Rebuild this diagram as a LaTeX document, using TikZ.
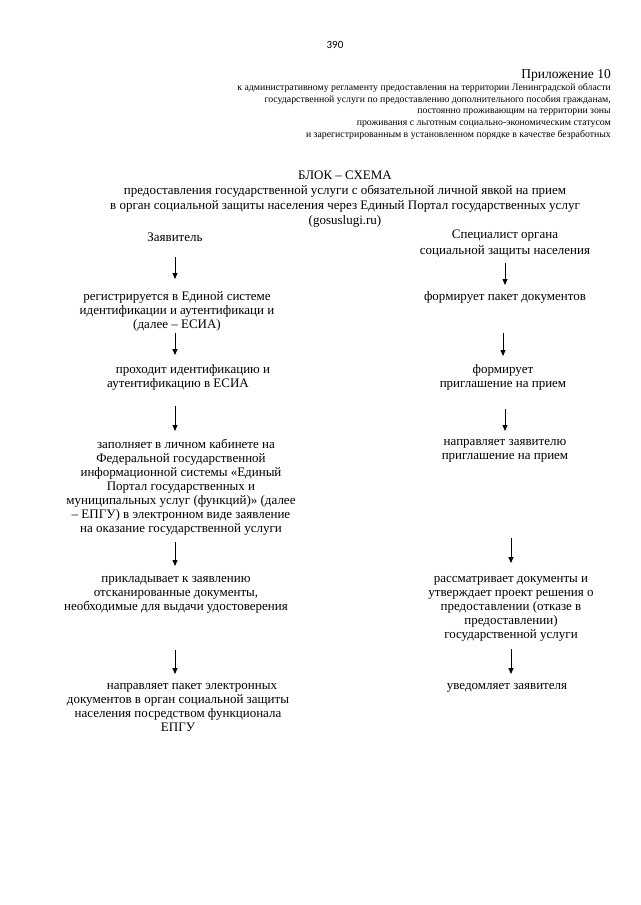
\documentclass[tikz,border=0pt]{standalone}
\usepackage{fontspec}
\setmainfont{Liberation Serif}
\newfontfamily\pagenumfont{Carlito}
\usepackage{xcolor}
\usetikzlibrary{arrows.meta}
\definecolor{ink}{HTML}{000000}
\tikzset{
  txt/.style={align=center, inner sep=0pt, anchor=north, color=ink,
              font=\fontsize{13}{14}\selectfont},
  hdr/.style={align=right, inner sep=0pt, anchor=north east, color=ink,
              font=\fontsize{9.8}{11.8}\selectfont},
  ar/.style={-{Triangle[length=6pt, width=5pt]}, line width=0.8pt, color=ink},
}

\begin{document}
\begin{tikzpicture}[x=1pt, y=-1pt]
\useasboundingbox (0,0) rectangle (640,905);
\fill[white] (0,0) rectangle (640,905);

% page head
\node[inner sep=0pt, font=\pagenumfont\fontsize{11}{13}\selectfont] (pg) at (335,45) {390};
\node[inner sep=0pt, anchor=east, font=\fontsize{13.5}{15}\selectfont] (app) at (611,75) {Приложение 10};
\node[hdr] (appsub) at (611,83) {к административному регламенту предоставления на территории Ленинградской области\\
  государственной услуги  по предоставлению  дополнительного пособия гражданам,\\
  постоянно проживающим на территории зоны\\
  проживания с льготным социально-экономическим статусом\\
  и зарегистрированным в установленном порядке в качестве безработных};

% title
\node[txt, font=\fontsize{13}{15}\selectfont] (ttl) at (345,171) {БЛОК – СХЕМА\\
  предоставления государственной услуги  с обязательной личной явкой на прием\\
  в орган социальной защиты населения через Единый Портал государственных услуг\\
  (gosuslugi.ru)};

% applicant
\node[txt] (zv) at (175,233) {Заявитель};
\node[txt] (reg) at (177,291) {регистрируется в Единой системе\\ идентификации и аутентификаци и\\ (далее – ЕСИА)};
\node[txt] (esia) at (178,364) {\hspace*{30pt}проходит идентификацию и\\ аутентификацию в ЕСИА};
\node[txt] (fill) at (181,439) {\hspace*{10pt}заполняет в личном кабинете на\\
  Федеральной государственной\hspace*{30pt}\\
  информационной системы «Единый\\
  Портал государственных и\hspace*{26pt}\\
  муниципальных услуг (функций)» (далее\\
  – ЕПГУ)  в электронном виде заявление\\
  на оказание государственной услуги};
\node[txt] (scan) at (176,576) {прикладывает  к заявлению\\ отсканированные документы,\\ необходимые для выдачи удостоверения};
\node[txt] (send) at (178,683) {\hspace*{28pt}направляет пакет электронных\\
  документов в орган социальной защиты\\
  населения посредством функционала\\
  ЕПГУ};

% specialist
\node[txt, font=\fontsize{13}{16}\selectfont] (sp) at (505,230) {Специалист органа\\ социальной защиты населения};
\node[txt] (pak) at (505,291) {формирует пакет документов};
\node[txt] (inv) at (503,364) {формирует\\ приглашение на прием};
\node[txt] (snd) at (505,439) {направляет заявителю\\ приглашение на прием};
\node[txt] (rev) at (511,576) {рассматривает документы и\\ утверждает проект решения о\\ предоставлении (отказе в\\ предоставлении)\\ государственной услуги};
\node[txt] (ntf) at (507,683) {уведомляет заявителя};

\draw[ar, shorten <=15pt, shorten >=12pt] (zv.south) -- (zv.south |- reg.north);
\draw[ar, shorten <=2pt, shorten >=9pt] (reg.south -| zv.south) -- (zv.south |- esia.north);
\draw[ar, shorten <=16pt, shorten >=8pt] (esia.south -| zv.south) -- (zv.south |- fill.north);
\draw[ar, shorten <=6pt, shorten >=10pt] (fill.south -| zv.south) -- (zv.south |- scan.north);
\draw[ar, shorten <=37pt, shorten >=9pt] (scan.south -| zv.south) -- (zv.south |- send.north);

\draw[ar, shorten <=5pt, shorten >=6pt] (sp.south -| pak.north) -- (pak.north);
\draw[ar, shorten <=30pt, shorten >=8pt] (pak.south -| inv.north) -- (inv.north);
\draw[ar, shorten <=19pt, shorten >=8pt] (inv.south -| snd.north) -- (snd.north);
\draw[ar, shorten <=76pt, shorten >=13pt] (snd.south -| rev.north) -- (rev.north);
\draw[ar, shorten <=8pt, shorten >=9pt] (rev.south) -- (rev.south |- ntf.north);

\end{tikzpicture}
\end{document}
